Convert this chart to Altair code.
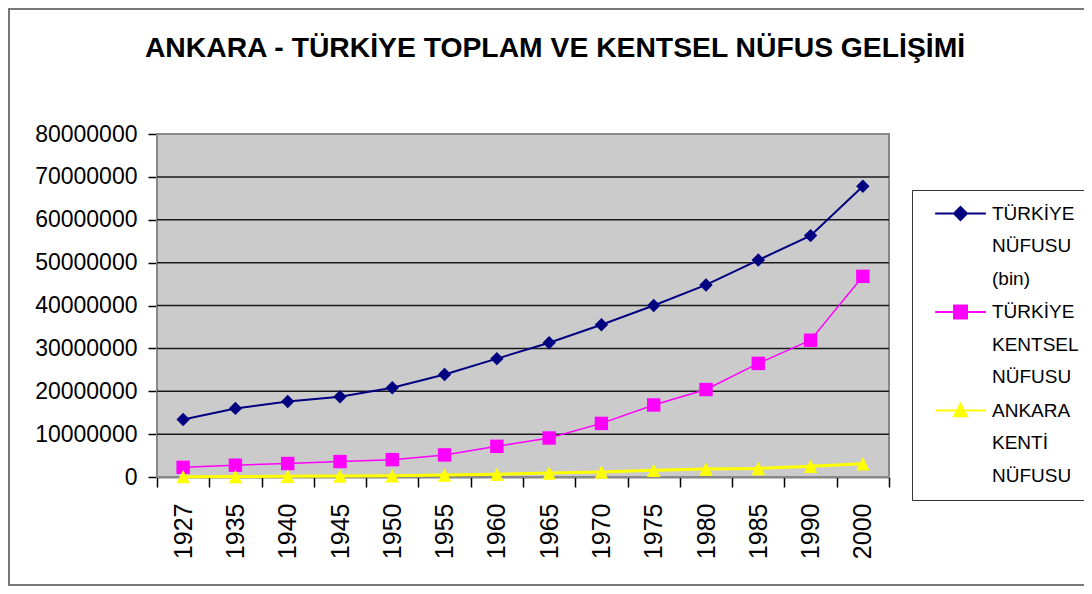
import altair as alt
import pandas as pd

years = ["1927", "1935", "1940", "1945", "1950", "1955", "1960",
         "1965", "1970", "1975", "1980", "1985", "1990", "2000"]
turkiye = [13400000, 16000000, 17600000, 18700000, 20800000, 23900000, 27600000,
           31300000, 35500000, 40000000, 44800000, 50600000, 56300000, 67800000]
kentsel = [2250000, 2750000, 3150000, 3600000, 4050000, 5150000, 7150000,
           9100000, 12500000, 16800000, 20400000, 26500000, 31900000, 46800000]
ankara = [80000, 120000, 160000, 230000, 290000, 450000, 650000,
          950000, 1150000, 1550000, 1850000, 2000000, 2500000, 3100000]
series = ["TÜRKİYE NÜFUSU (bin)", "TÜRKİYE KENTSEL NÜFUSU", "ANKARA KENTİ NÜFUSU"]
colors = ["#000080", "#FF00FF", "#FFFF00"]
widths = [2, 1.5, 3]
y_ticks = [0, 10000000, 20000000, 30000000, 40000000, 50000000, 60000000, 70000000, 80000000]
title_text = "ANKARA - TÜRKİYE TOPLAM VE KENTSEL NÜFUS GELİŞİMİ"

# legend lines (one legend row per text line; marker only on the first line)
legend_lines = ["1|TÜRKİYE", "2|NÜFUSU", "3|(bin)",
                "4|TÜRKİYE", "5|KENTSEL", "6|NÜFUSU",
                "7|ANKARA", "8|KENTİ", "9|NÜFUSU"]
legend_colors = ["#000080", "transparent", "transparent",
                 "#FF00FF", "transparent", "transparent",
                 "#FFFF00", "transparent", "transparent"]

diamond = "M0,-1L1,0L0,1L-1,0Z"
square = "M-1,-1H1V1H-1Z"
triangle = "M0,-1L1,1H-1Z"
shapes = [diamond, square, triangle]
leg_diamond = "M-3.9,0H-1 M0,-1L1,0L0,1L-1,0Z M1,0H3.9"
leg_square = "M-3.9,0H-1 M-1,-1H1V1H-1Z M1,0H3.9"
leg_triangle = "M-3.9,0H-0.5 M0,-1L1,0.9H-1Z M0.5,0H3.9"
blank = "M0,0Z"
legend_shapes = [leg_diamond, blank, blank, leg_square, blank, blank, leg_triangle, blank, blank]

rows = []
for s, vals in zip(series, [turkiye, kentsel, ankara]):
    for yr, v in zip(years, vals):
        rows.append({"year": yr, "series": s, "value": v})
df = pd.DataFrame(rows)
grid_df = pd.DataFrame({"v": y_ticks[1:-1]})
one_df = pd.DataFrame({"k": [0]})
leg_df = pd.DataFrame({"leg": legend_lines})

FONT = "Liberation Sans"
W, H = 732, 343

yscale = alt.Scale(domain=[0, 80000000], nice=False)
yaxis = alt.Axis(values=y_ticks, format="d", title=None, grid=False,
                 tickSize=9, labelPadding=11, labelFontSize=23, labelFont=FONT,
                 labelColor="black", domainColor="black", domainWidth=1.5,
                 tickColor="black", tickWidth=1.5)
xaxis = alt.Axis(title=None, labelAngle=270, labelAlign="right", labelBaseline="middle",
                 labelFontSize=25, labelFont=FONT, labelColor="black",
                 tickBand="extent", tickSize=10, labelPadding=16,
                 domainColor="black", domainWidth=1.5, tickColor="black", tickWidth=1.5,
                 grid=False)
xenc = alt.X("year:N", sort=years,
             scale=alt.Scale(type="band", paddingInner=0, paddingOuter=0),
             bandPosition=0.5, axis=xaxis)

legend = alt.Legend(
    title=None, orient="none", legendX=755, legendY=56, padding=14,
    strokeColor="#333333", fillColor="white",
    labelExpr="split(datum.label, '|')[1]", labelFont=FONT, labelFontSize=19,
    labelColor="black",
    symbolSize=169, symbolStrokeWidth=2, symbolOffset=25, labelOffset=22,
    rowPadding=12.5, labelLimit=0,
)
cscale = alt.Scale(domain=series, range=colors)
lcscale = alt.Scale(domain=legend_lines, range=legend_colors)
lsscale = alt.Scale(domain=legend_lines, range=legend_shapes)

# outer chart frame and grey plot area (decoration)
frame = alt.Chart(one_df).mark_rect(fill="transparent", stroke="#777777", strokeWidth=2).encode(
    x=alt.value(-148), x2=alt.value(960), y=alt.value(-125), y2=alt.value(451)
)
plot_bg = alt.Chart(one_df).mark_rect(fill="#CBCBCB", stroke="#888888", strokeWidth=2).encode(
    x=alt.value(0), x2=alt.value(W), y=alt.value(0), y2=alt.value(H)
)

grid = alt.Chart(grid_df).mark_rule(color="#1a1a1a", strokeWidth=1.5).encode(
    y=alt.Y("v:Q", scale=yscale, axis=yaxis)
)

layers = [frame, plot_bg, grid]
for s, w in zip(series, widths):
    layers.append(
        alt.Chart(df).transform_filter(alt.datum.series == s).mark_line(strokeWidth=w).encode(
            x=xenc,
            y=alt.Y("value:Q", scale=yscale, axis=yaxis),
            color=alt.Color("series:N", scale=cscale, sort=series, legend=None),
        )
    )

points = alt.Chart(df).mark_point(filled=True, size=180, strokeWidth=0, opacity=1).encode(
    x=xenc,
    y=alt.Y("value:Q", scale=yscale, axis=yaxis),
    color=alt.Color("series:N", scale=cscale, sort=series, legend=None),
    shape=alt.Shape("series:N", scale=alt.Scale(domain=series, range=shapes), sort=series, legend=None),
)
legend_layer = alt.Chart(leg_df).transform_filter("false").mark_point(
    filled=True, size=169, strokeWidth=2, opacity=1
).encode(
    color=alt.Color("leg:N", scale=lcscale, sort=legend_lines, legend=legend),
    shape=alt.Shape("leg:N", scale=lsscale, sort=legend_lines, legend=legend),
    stroke=alt.Stroke("leg:N", scale=lcscale, sort=legend_lines, legend=legend),
)
layers += [points, legend_layer]

chart = alt.layer(*layers).resolve_scale(
    color="independent", shape="independent", stroke="independent"
).properties(
    width=W, height=H,
    background="white",
    padding={"left": 149, "top": 126, "right": 195, "bottom": 109},
    autosize=alt.AutoSizeParams(type="none"),
    title=alt.Title(title_text, fontSize=28.3, font=FONT, fontWeight="bold", color="black",
                    anchor="middle", dx=32, offset=-83, baseline="bottom"),
).configure_view(
    fill="#CBCBCB", stroke="#888888", strokeWidth=2
)

chart.save("out.html", embed_options={"renderer": "svg", "actions": False})
